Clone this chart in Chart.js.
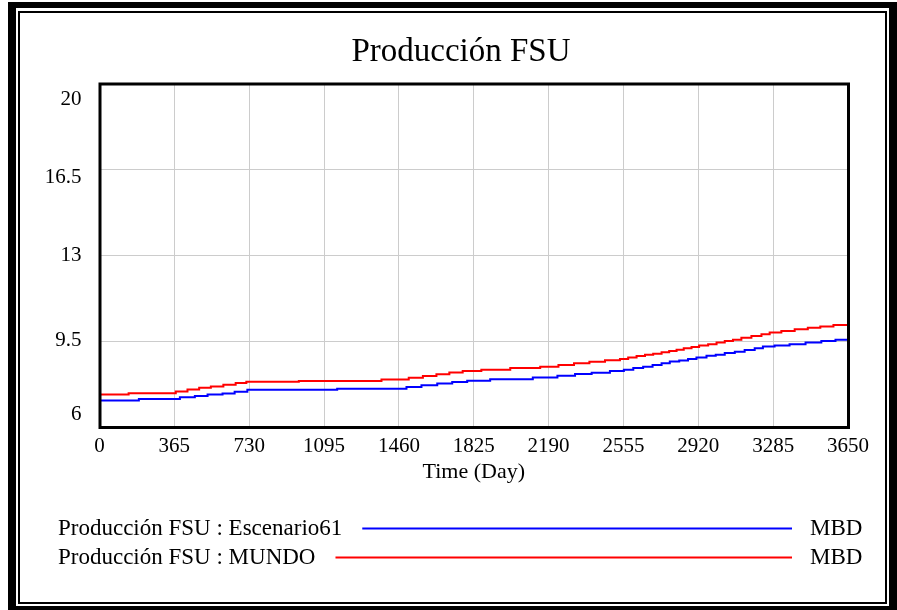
<!DOCTYPE html>
<html lang="es">
<head>
<meta charset="utf-8">
<title>Producción FSU</title>
<script src="https://cdn.jsdelivr.net/npm/chart.js@4/dist/chart.umd.min.js"></script>
<style>
    html, body { margin: 0; padding: 0; background: #fff; }
    #page { position: relative; width: 897px; height: 610px; overflow: hidden; }
    #outer { position: absolute; left: 8px; top: 2px; right: 0; bottom: 0; box-sizing: border-box;
             border: solid #000; border-width: 6px 8px 4px 8px; }
    #inner { position: absolute; left: 18px; top: 11px; right: 10px; bottom: 6px; box-sizing: border-box;
             border: 2px solid #000; }
    #chart { position: absolute; left: 0; top: 0; }
</style>
</head>
<body>
<div id="page">
    <div id="outer"></div>
    <div id="inner"></div>
    <canvas id="chart" width="897" height="610"></canvas>
</div>
<script>
// Datos (día de cambio -> valor en MBD)
const chartTitle = 'Producción FSU';
const xAxisTitle = 'Time (Day)';
const xTicks = [0, 365, 730, 1095, 1460, 1825, 2190, 2555, 2920, 3285, 3650];
const yTicks = [6, 9.5, 13, 16.5, 20];

const seriesLabels = ['Producción FSU : Escenario61', 'Producción FSU : MUNDO'];
const seriesUnits = ['MBD', 'MBD'];
const seriesColors = ['#0000ff', '#ff0000'];

const escenarioDays = [0, 192, 392, 465, 527, 600, 659, 721, 1159, 1497,
    1570, 1647, 1720, 1793, 1905, 2113, 2233, 2319, 2400, 2489,
    2557, 2603, 2651, 2697, 2741, 2781, 2827, 2870, 2911, 2960,
    3005, 3049, 3098, 3146, 3195, 3235, 3292, 3365, 3443, 3520,
    3589, 3650];
const escenarioValues = [7.10, 7.16, 7.23, 7.28, 7.34, 7.39, 7.46, 7.54, 7.58, 7.65,
    7.72, 7.79, 7.85, 7.91, 7.97, 8.04, 8.11, 8.18, 8.23, 8.30,
    8.35, 8.42, 8.48, 8.55, 8.62, 8.69, 8.73, 8.79, 8.85, 8.92,
    8.97, 9.04, 9.09, 9.16, 9.23, 9.30, 9.34, 9.39, 9.46, 9.53,
    9.58, 9.60];

const mundoDays = [0, 142, 372, 429, 486, 543, 604, 664, 716, 972,
    1375, 1508, 1577, 1643, 1706, 1771, 1862, 2003, 2149, 2238,
    2314, 2389, 2465, 2538, 2578, 2619, 2660, 2700, 2741, 2778,
    2814, 2849, 2887, 2924, 2968, 3009, 3049, 3089, 3130, 3179,
    3228, 3268, 3325, 3390, 3454, 3515, 3579, 3650];
const mundoValues = [7.34, 7.40, 7.47, 7.55, 7.62, 7.67, 7.74, 7.81, 7.86, 7.90,
    7.96, 8.03, 8.10, 8.17, 8.24, 8.30, 8.35, 8.42, 8.48, 8.55,
    8.62, 8.68, 8.74, 8.79, 8.85, 8.91, 8.96, 9.01, 9.07, 9.12,
    9.17, 9.23, 9.28, 9.34, 9.39, 9.46, 9.53, 9.58, 9.66, 9.73,
    9.80, 9.87, 9.93, 10.00, 10.07, 10.12, 10.18, 10.20];

// Desplazamiento vertical de las etiquetas del eje Y (estilo Vensim, en px)
const yLabelShift = [-13, -1, 0, 8, 15];
// El título está algo corrido a la derecha respecto del lienzo
const titleOffsetX = 37;

const FONT = '"Liberation Serif", "Times New Roman", serif';
const toPoints = (days, values) => days.map((d, i) => ({ x: d, y: values[i] }));

// Marco del área de trazado, posición del título y etiquetas del eje Y
const plotFrame = {
    id: 'plotFrame',
    afterLayout(chart) {
        if (chart.titleBlock) chart.titleBlock.left += 2 * titleOffsetX;
    },
    beforeDraw(chart) {
        const items = chart.scales.y.getLabelItems();
        if (!items._shifted) {
            items.forEach((item, i) => { item.options.translation[1] += yLabelShift[i] || 0; });
            items._shifted = true;
        }
    },
    afterDraw(chart) {
        const { ctx, chartArea: a } = chart;
        ctx.save();
        ctx.strokeStyle = '#000';
        ctx.lineWidth = 3;
        ctx.strokeRect(a.left + 0.5, a.top, a.right - a.left, a.bottom - a.top);
        ctx.restore();
    }
};

// Leyenda inferior: texto, línea y unidad
const bottomLegend = {
    id: 'bottomLegend',
    afterDraw(chart) {
        const ctx = chart.ctx;
        ctx.save();
        ctx.font = '23px ' + FONT;
        ctx.textBaseline = 'middle';
        ctx.fillStyle = '#000';
        chart.data.datasets.forEach((ds, i) => {
            const y = 529 + i * 29;
            ctx.textAlign = 'left';
            ctx.fillText(ds.label, 58, y);
            const start = 58 + ctx.measureText(ds.label).width + 20;
            ctx.strokeStyle = ds.borderColor;
            ctx.lineWidth = 2;
            ctx.beginPath();
            ctx.moveTo(start, y - 0.5);
            ctx.lineTo(792, y - 0.5);
            ctx.stroke();
            ctx.fillText(seriesUnits[i], 810, y);
        });
        ctx.restore();
    }
};

const ctx = document.getElementById('chart').getContext('2d');
new Chart(ctx, {
    type: 'line',
    data: {
        datasets: [
            {
                label: seriesLabels[0],
                data: toPoints(escenarioDays, escenarioValues),
                borderColor: seriesColors[0],
                borderWidth: 2,
                pointRadius: 0,
                stepped: true,
                fill: false
            },
            {
                label: seriesLabels[1],
                data: toPoints(mundoDays, mundoValues),
                borderColor: seriesColors[1],
                borderWidth: 2,
                pointRadius: 0,
                stepped: true,
                fill: false
            }
        ]
    },
    options: {
        responsive: false,
        animation: false,
        layout: { padding: { left: 0, top: 0, right: 49, bottom: 122.5 } },
        plugins: {
            legend: { display: false },
            tooltip: { enabled: false },
            title: {
                display: true,
                text: chartTitle,
                color: '#000',
                font: { family: FONT, size: 33, weight: 'normal', lineHeight: 1.2 },
                padding: { top: 33, bottom: 11.4 }
            }
        },
        scales: {
            x: {
                type: 'linear',
                min: 0,
                max: 3650,
                afterBuildTicks: scale => { scale.ticks = xTicks.map(v => ({ value: v })); },
                afterFit: scale => { scale.height = 60; },
                grid: { color: '#cccccc', lineWidth: 1, tickLength: 0 },
                border: { display: false },
                ticks: {
                    autoSkip: false,
                    maxRotation: 0,
                    padding: 6,
                    color: '#000',
                    font: { family: FONT, size: 21 },
                    callback: v => String(v)
                },
                title: {
                    display: true,
                    text: xAxisTitle,
                    color: '#000',
                    font: { family: FONT, size: 22 },
                    padding: { top: 0, bottom: 2 }
                }
            },
            y: {
                min: 6,
                max: 20,
                afterBuildTicks: scale => { scale.ticks = yTicks.map(v => ({ value: v })); },
                afterFit: scale => { scale.width = 99.5; },
                grid: { color: '#cccccc', lineWidth: 1, tickLength: 0 },
                border: { display: false },
                ticks: {
                    padding: 18,
                    color: '#000',
                    font: { family: FONT, size: 21 },
                    callback: v => String(v)
                }
            }
        }
    },
    plugins: [plotFrame, bottomLegend]
});
</script>
</body>
</html>
